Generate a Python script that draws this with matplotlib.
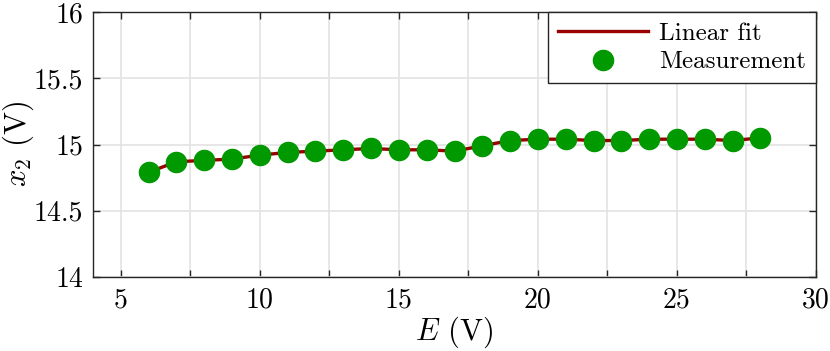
import numpy as np
import matplotlib
matplotlib.use('Agg')
import matplotlib.pyplot as plt
from matplotlib.ticker import MultipleLocator, FuncFormatter

# data
E = [6, 7, 8, 9, 10, 11, 12, 13, 14, 15, 16, 17,
     18, 19, 20, 21, 22, 23, 24, 25, 26, 27, 28]
x2 = [14.79, 14.87, 14.88, 14.89, 14.92, 14.94, 14.95, 14.96, 14.97, 14.96, 14.96, 14.95,
      14.99, 15.03, 15.04, 15.04, 15.03, 15.03, 15.04, 15.04, 15.04, 15.03, 15.05]

plt.rcParams['font.family'] = 'serif'
plt.rcParams['font.serif'] = ['cmr10']
plt.rcParams['mathtext.fontset'] = 'cm'
plt.rcParams['axes.formatter.use_mathtext'] = True
plt.rcParams['font.size'] = 14

fig = plt.figure(figsize=(8.3, 3.51), dpi=100)
ax = fig.add_axes([93 / 830, 1 - 277 / 351, (816 - 93) / 830, (277 - 12) / 351])

ax.plot(E, x2, color='#990000', lw=2.4, label='Linear fit', zorder=3)
ax.plot(E, x2, 'o', color='#009900', ms=14.5, mec='#009900', label='Measurement', zorder=4)

ax.set_xlim(4, 30)
ax.set_ylim(14, 16)
ax.xaxis.set_major_locator(MultipleLocator(2.5))
ax.xaxis.set_major_formatter(FuncFormatter(lambda v, p: '%d' % v if v % 5 == 0 else ''))
ax.yaxis.set_major_locator(MultipleLocator(0.5))
ax.yaxis.set_major_formatter(FuncFormatter(lambda v, p: ('%g' % v)))

ax.grid(True, color='#e3e3e3', lw=1.2)
ax.set_axisbelow(True)
for s in ax.spines.values():
    s.set_color('#262626')
    s.set_linewidth(1.0)
ax.tick_params(direction='in', top=True, right=True, length=5, width=1.0,
               color='#262626', labelsize=20, pad=7)

ax.set_xlabel('$E$ (V)', fontsize=22, labelpad=1)
ax.set_ylabel('$x_2$ (V)', fontsize=22, va='center')
ax.yaxis.set_label_coords(-0.104, 0.5)

leg = ax.legend(loc='upper right', borderaxespad=0, fancybox=False, framealpha=1,
                edgecolor='#262626', fontsize=18, handlelength=3.6, borderpad=0.4,
                labelspacing=0.25, handletextpad=0.45)
leg.get_frame().set_linewidth(1.0)

fig.savefig('out.png', dpi=100)
